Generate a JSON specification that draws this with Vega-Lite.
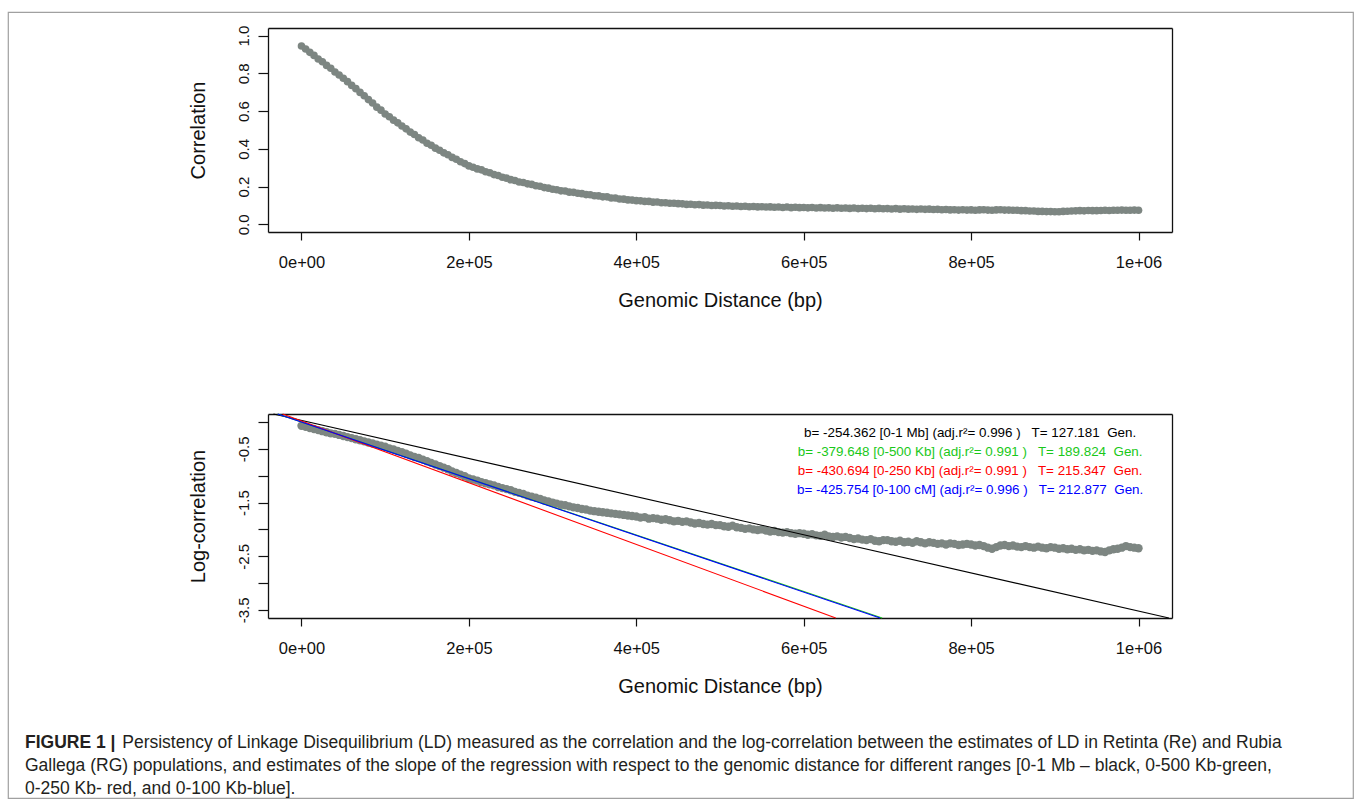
{
"$schema": "https://vega.github.io/schema/vega-lite/v6.json",
"width": 1345, "height": 786,
"autosize": {"type": "none"},
"padding": {"left": 8, "top": 12, "right": 2, "bottom": 4},
"background": "white",
"config": {
  "view": {"stroke": "#a0a0a0", "strokeWidth": 1.2},
  "font": "Liberation Sans",
  "axis": {"grid": false, "domainColor": "#111", "domainWidth": 1.3, "tickColor": "#111", "tickWidth": 1.2, "labelColor": "#111", "titleColor": "#111", "labelFont": "Liberation Sans", "titleFont": "Liberation Sans", "titleFontWeight": "normal", "labelFlush": false, "labelOverlap": false, "labelBound": false}
},
"title": {
  "text": "FIGURE 1 |",
  "subtitle": ["\u200b\u00a0\u00a0\u00a0\u00a0\u00a0\u00a0\u00a0\u00a0\u00a0\u00a0\u00a0\u00a0\u00a0\u00a0\u00a0\u00a0\u00a0\u00a0\u00a0\u00a0Persistency of Linkage Disequilibrium (LD) measured as the correlation and the log-correlation between the estimates of LD in Retinta (Re) and Rubia", "Gallega (RG) populations, and estimates of the slope of the regression with respect to the genomic distance for different ranges [0-1 Mb \u2013 black, 0-500 Kb-green,", "0-250 Kb- red, and 0-100 Kb-blue]."],
  "orient": "bottom", "anchor": "start", "frame": "group", "offset": -64, "dx": 17,
  "font": "Liberation Sans", "fontSize": 17.5, "fontWeight": "bold", "color": "#231f20", "lineHeight": 17.5,
  "subtitleFont": "Liberation Sans", "subtitleFontSize": 17.5, "subtitleFontWeight": "normal", "subtitleColor": "#231f20", "subtitleLineHeight": 23, "subtitlePadding": -17.5
},
"datasets": {
"pts": [
{"d":0,"r":0.945,"l":-0.07},{"d":5000,"r":0.929,"l":-0.09},{"d":10000,"r":0.911,"l":-0.11},{"d":15000,"r":0.895,"l":-0.13},{"d":20000,"r":0.876,"l":-0.15},
{"d":25000,"r":0.861,"l":-0.17},{"d":30000,"r":0.842,"l":-0.19},{"d":35000,"r":0.827,"l":-0.21},{"d":40000,"r":0.807,"l":-0.22},{"d":45000,"r":0.791,"l":-0.24},
{"d":50000,"r":0.774,"l":-0.26},{"d":55000,"r":0.756,"l":-0.28},{"d":60000,"r":0.736,"l":-0.30},{"d":65000,"r":0.719,"l":-0.32},{"d":70000,"r":0.699,"l":-0.34},
{"d":75000,"r":0.681,"l":-0.36},{"d":80000,"r":0.661,"l":-0.38},{"d":85000,"r":0.643,"l":-0.40},{"d":90000,"r":0.621,"l":-0.42},{"d":95000,"r":0.605,"l":-0.44},
{"d":100000,"r":0.585,"l":-0.46},{"d":105000,"r":0.570,"l":-0.49},{"d":110000,"r":0.552,"l":-0.51},{"d":115000,"r":0.538,"l":-0.54},{"d":120000,"r":0.521,"l":-0.56},
{"d":125000,"r":0.506,"l":-0.59},{"d":130000,"r":0.489,"l":-0.62},{"d":135000,"r":0.476,"l":-0.65},{"d":140000,"r":0.459,"l":-0.67},{"d":145000,"r":0.447,"l":-0.70},
{"d":150000,"r":0.430,"l":-0.73},{"d":155000,"r":0.419,"l":-0.76},{"d":160000,"r":0.404,"l":-0.79},{"d":165000,"r":0.393,"l":-0.82},{"d":170000,"r":0.379,"l":-0.85},
{"d":175000,"r":0.369,"l":-0.88},{"d":180000,"r":0.355,"l":-0.92},{"d":185000,"r":0.345,"l":-0.95},{"d":190000,"r":0.332,"l":-0.98},{"d":195000,"r":0.322,"l":-1.01},
{"d":200000,"r":0.310,"l":-1.05},{"d":205000,"r":0.303,"l":-1.07},{"d":210000,"r":0.294,"l":-1.09},{"d":215000,"r":0.289,"l":-1.12},{"d":220000,"r":0.279,"l":-1.14},
{"d":225000,"r":0.274,"l":-1.16},{"d":230000,"r":0.264,"l":-1.18},{"d":235000,"r":0.259,"l":-1.21},{"d":240000,"r":0.250,"l":-1.23},{"d":245000,"r":0.245,"l":-1.25},
{"d":250000,"r":0.237,"l":-1.27},{"d":255000,"r":0.233,"l":-1.30},{"d":260000,"r":0.225,"l":-1.32},{"d":265000,"r":0.222,"l":-1.34},{"d":270000,"r":0.215,"l":-1.37},
{"d":275000,"r":0.212,"l":-1.39},{"d":280000,"r":0.205,"l":-1.41},{"d":285000,"r":0.202,"l":-1.43},{"d":290000,"r":0.195,"l":-1.46},{"d":295000,"r":0.192,"l":-1.48},
{"d":300000,"r":0.186,"l":-1.50},{"d":305000,"r":0.184,"l":-1.52},{"d":310000,"r":0.178,"l":-1.54},{"d":315000,"r":0.177,"l":-1.55},{"d":320000,"r":0.171,"l":-1.57},
{"d":325000,"r":0.170,"l":-1.59},{"d":330000,"r":0.165,"l":-1.60},{"d":335000,"r":0.163,"l":-1.62},{"d":340000,"r":0.158,"l":-1.63},{"d":345000,"r":0.157,"l":-1.65},
{"d":350000,"r":0.152,"l":-1.66},{"d":355000,"r":0.151,"l":-1.67},{"d":360000,"r":0.146,"l":-1.68},{"d":365000,"r":0.146,"l":-1.69},{"d":370000,"r":0.140,"l":-1.70},
{"d":375000,"r":0.140,"l":-1.71},{"d":380000,"r":0.135,"l":-1.72},{"d":385000,"r":0.134,"l":-1.73},{"d":390000,"r":0.130,"l":-1.74},{"d":395000,"r":0.129,"l":-1.75},
{"d":400000,"r":0.126,"l":-1.76},{"d":405000,"r":0.125,"l":-1.78},{"d":410000,"r":0.122,"l":-1.77},{"d":415000,"r":0.122,"l":-1.80},{"d":420000,"r":0.118,"l":-1.79},
{"d":425000,"r":0.119,"l":-1.80},{"d":430000,"r":0.115,"l":-1.82},{"d":435000,"r":0.115,"l":-1.81},{"d":440000,"r":0.112,"l":-1.83},{"d":445000,"r":0.112,"l":-1.85},
{"d":450000,"r":0.110,"l":-1.84},{"d":455000,"r":0.109,"l":-1.86},{"d":460000,"r":0.106,"l":-1.85},{"d":465000,"r":0.107,"l":-1.87},{"d":470000,"r":0.104,"l":-1.89},
{"d":475000,"r":0.105,"l":-1.88},{"d":480000,"r":0.102,"l":-1.90},{"d":485000,"r":0.103,"l":-1.91},{"d":490000,"r":0.100,"l":-1.90},{"d":495000,"r":0.101,"l":-1.92},
{"d":500000,"r":0.100,"l":-1.92},{"d":505000,"r":0.098,"l":-1.94},{"d":510000,"r":0.099,"l":-1.95},{"d":515000,"r":0.096,"l":-1.93},{"d":520000,"r":0.098,"l":-1.96},
{"d":525000,"r":0.095,"l":-1.97},{"d":530000,"r":0.096,"l":-1.99},{"d":535000,"r":0.094,"l":-1.98},{"d":540000,"r":0.095,"l":-2.00},{"d":545000,"r":0.093,"l":-2.01},
{"d":550000,"r":0.094,"l":-2.00},{"d":555000,"r":0.092,"l":-2.02},{"d":560000,"r":0.093,"l":-2.04},{"d":565000,"r":0.091,"l":-2.03},{"d":570000,"r":0.092,"l":-2.05},
{"d":575000,"r":0.090,"l":-2.06},{"d":580000,"r":0.092,"l":-2.05},{"d":585000,"r":0.089,"l":-2.07},{"d":590000,"r":0.091,"l":-2.08},{"d":595000,"r":0.089,"l":-2.07},
{"d":600000,"r":0.090,"l":-2.08},{"d":605000,"r":0.088,"l":-2.10},{"d":610000,"r":0.090,"l":-2.09},{"d":615000,"r":0.087,"l":-2.11},{"d":620000,"r":0.089,"l":-2.12},
{"d":625000,"r":0.087,"l":-2.10},{"d":630000,"r":0.088,"l":-2.13},{"d":635000,"r":0.086,"l":-2.14},{"d":640000,"r":0.088,"l":-2.13},{"d":645000,"r":0.086,"l":-2.15},
{"d":650000,"r":0.087,"l":-2.14},{"d":655000,"r":0.085,"l":-2.16},{"d":660000,"r":0.087,"l":-2.18},{"d":665000,"r":0.084,"l":-2.17},{"d":670000,"r":0.086,"l":-2.19},
{"d":675000,"r":0.084,"l":-2.20},{"d":680000,"r":0.086,"l":-2.18},{"d":685000,"r":0.083,"l":-2.21},{"d":690000,"r":0.085,"l":-2.22},{"d":695000,"r":0.083,"l":-2.20},
{"d":700000,"r":0.084,"l":-2.20},{"d":705000,"r":0.082,"l":-2.22},{"d":710000,"r":0.084,"l":-2.23},{"d":715000,"r":0.081,"l":-2.21},{"d":720000,"r":0.083,"l":-2.24},
{"d":725000,"r":0.081,"l":-2.23},{"d":730000,"r":0.082,"l":-2.25},{"d":735000,"r":0.080,"l":-2.22},{"d":740000,"r":0.082,"l":-2.24},{"d":745000,"r":0.080,"l":-2.26},
{"d":750000,"r":0.081,"l":-2.24},{"d":755000,"r":0.079,"l":-2.25},{"d":760000,"r":0.080,"l":-2.27},{"d":765000,"r":0.078,"l":-2.26},{"d":770000,"r":0.079,"l":-2.28},
{"d":775000,"r":0.077,"l":-2.26},{"d":780000,"r":0.078,"l":-2.27},{"d":785000,"r":0.076,"l":-2.29},{"d":790000,"r":0.078,"l":-2.28},{"d":795000,"r":0.076,"l":-2.27},
{"d":800000,"r":0.077,"l":-2.28},{"d":805000,"r":0.075,"l":-2.30},{"d":810000,"r":0.077,"l":-2.29},{"d":815000,"r":0.078,"l":-2.31},{"d":820000,"r":0.076,"l":-2.34},
{"d":825000,"r":0.075,"l":-2.36},{"d":830000,"r":0.077,"l":-2.33},{"d":835000,"r":0.078,"l":-2.30},{"d":840000,"r":0.076,"l":-2.29},{"d":845000,"r":0.076,"l":-2.31},
{"d":850000,"r":0.075,"l":-2.30},{"d":855000,"r":0.075,"l":-2.32},{"d":860000,"r":0.073,"l":-2.33},{"d":865000,"r":0.073,"l":-2.31},{"d":870000,"r":0.071,"l":-2.33},
{"d":875000,"r":0.071,"l":-2.34},{"d":880000,"r":0.069,"l":-2.32},{"d":885000,"r":0.069,"l":-2.34},{"d":890000,"r":0.068,"l":-2.35},{"d":895000,"r":0.068,"l":-2.33},
{"d":900000,"r":0.067,"l":-2.34},{"d":905000,"r":0.067,"l":-2.36},{"d":910000,"r":0.069,"l":-2.35},{"d":915000,"r":0.070,"l":-2.37},{"d":920000,"r":0.071,"l":-2.36},
{"d":925000,"r":0.072,"l":-2.38},{"d":930000,"r":0.073,"l":-2.37},{"d":935000,"r":0.072,"l":-2.39},{"d":940000,"r":0.074,"l":-2.38},{"d":945000,"r":0.073,"l":-2.40},
{"d":950000,"r":0.073,"l":-2.39},{"d":955000,"r":0.074,"l":-2.41},{"d":960000,"r":0.075,"l":-2.42},{"d":965000,"r":0.074,"l":-2.39},{"d":970000,"r":0.075,"l":-2.37},
{"d":975000,"r":0.075,"l":-2.36},{"d":980000,"r":0.076,"l":-2.34},{"d":985000,"r":0.075,"l":-2.31},{"d":990000,"r":0.075,"l":-2.33},{"d":995000,"r":0.076,"l":-2.34},
{"d":1000000,"r":0.075,"l":-2.35}
],
"fits": [
{"fit":"0-1 Mb","d":-33500,"l":0.15},{"fit":"0-1 Mb","d":1036300,"l":-3.65},
{"fit":"0-500 Kb","d":-28400,"l":0.15},{"fit":"0-500 Kb","d":693700,"l":-3.65},
{"fit":"0-250 Kb","d":-22600,"l":0.15},{"fit":"0-250 Kb","d":638300,"l":-3.65},
{"fit":"0-100 Kb","d":-28400,"l":0.15},{"fit":"0-100 Kb","d":691300,"l":-3.65}
],
"leg": [
{"fit":"0-1 Mb","t":"b= -254.362 [0-1 Mb] (adj.r\u00b2= 0.996 )\u00a0\u00a0 T= 127.181\u00a0 Gen."},
{"fit":"0-500 Kb","t":"b= -379.648 [0-500 Kb] (adj.r\u00b2= 0.991 )\u00a0\u00a0 T= 189.824\u00a0 Gen."},
{"fit":"0-250 Kb","t":"b= -430.694 [0-250 Kb] (adj.r\u00b2= 0.991 )\u00a0\u00a0 T= 215.347\u00a0 Gen."},
{"fit":"0-100 Kb","t":"b= -425.754 [0-100 cM] (adj.r\u00b2= 0.996 )\u00a0\u00a0 T= 212.877\u00a0 Gen."}
]
},
"layer": [
{
  "data": {"name": "pts"},
  "mark": {"type": "point", "filled": true, "size": 58, "strokeWidth": 0, "color": "#7d8682", "opacity": 1},
  "encoding": {
    "x": {"field": "d", "type": "quantitative",
      "scale": {"domain": [-40000, 1040000], "range": [260, 1164], "nice": false, "zero": false},
      "axis": {"orient": "bottom", "offset": -566, "values": [0, 200000, 400000, 600000, 800000, 1000000],
        "labelExpr": "datum.value == 0 ? '0e+00' : datum.value == 1000000 ? '1e+06' : (datum.value / 100000) + 'e+05'",
        "tickSize": 8, "labelPadding": 14, "labelFontSize": 16.5, "title": "Genomic Distance (bp)", "titleFontSize": 20, "titlePadding": 20}},
    "y": {"field": "r", "type": "quantitative",
      "scale": {"domain": [-0.04, 1.04], "range": [220, 16], "nice": false, "zero": false},
      "axis": {"orient": "left", "offset": -260, "values": [0, 0.2, 0.4, 0.6, 0.8, 1.0], "format": ".1f",
        "tickSize": 10, "labelAngle": -90, "labelAlign": "center", "labelBaseline": "alphabetic", "labelPadding": 10, "labelFontSize": 15,
        "title": "Correlation", "titleFontSize": 20, "titleBaseline": "alphabetic", "titlePadding": 32}}
  }
},
{
  "data": {"name": "pts"},
  "mark": {"type": "point", "opacity": 0},
  "encoding": {
    "x": {"field": "d", "type": "quantitative",
      "scale": {"domain": [-40000, 1040000], "range": [260, 1164], "nice": false, "zero": false},
      "axis": {"orient": "top", "offset": -16, "ticks": false, "labels": false, "title": null}},
    "y": {"field": "r", "type": "quantitative",
      "scale": {"domain": [-0.04, 1.04], "range": [220, 16], "nice": false, "zero": false},
      "axis": {"orient": "right", "offset": -181, "ticks": false, "labels": false, "title": null}}
  }
},
{
  "data": {"name": "pts"},
  "mark": {"type": "point", "filled": true, "size": 70, "strokeWidth": 0, "color": "#7d8682", "opacity": 1},
  "encoding": {
    "x": {"field": "d", "type": "quantitative",
      "scale": {"domain": [-40000, 1040000], "range": [260, 1164], "nice": false, "zero": false},
      "axis": {"orient": "bottom", "offset": -180, "values": [0, 200000, 400000, 600000, 800000, 1000000],
        "labelExpr": "datum.value == 0 ? '0e+00' : datum.value == 1000000 ? '1e+06' : (datum.value / 100000) + 'e+05'",
        "tickSize": 8, "labelPadding": 14, "labelFontSize": 16.5, "title": "Genomic Distance (bp)", "titleFontSize": 20, "titlePadding": 20}},
    "y": {"field": "l", "type": "quantitative",
      "scale": {"domain": [-3.65, 0.15], "range": [606, 402], "nice": false, "zero": false},
      "axis": {"orient": "left", "offset": -260, "values": [0, -0.5, -1, -1.5, -2, -2.5, -3, -3.5],
        "labelExpr": "datum.value % 1 != 0 ? '' + datum.value : ''",
        "tickSize": 10, "labelAngle": -90, "labelAlign": "center", "labelBaseline": "alphabetic", "labelPadding": 10, "labelFontSize": 15,
        "title": "Log-correlation", "titleFontSize": 20, "titleBaseline": "alphabetic", "titlePadding": 32}}
  }
},
{
  "data": {"name": "pts"},
  "mark": {"type": "point", "opacity": 0},
  "encoding": {
    "x": {"field": "d", "type": "quantitative",
      "scale": {"domain": [-40000, 1040000], "range": [260, 1164], "nice": false, "zero": false},
      "axis": {"orient": "top", "offset": -402, "ticks": false, "labels": false, "title": null}},
    "y": {"field": "l", "type": "quantitative",
      "scale": {"domain": [-3.65, 0.15], "range": [606, 402], "nice": false, "zero": false},
      "axis": {"orient": "right", "offset": -181, "ticks": false, "labels": false, "title": null}}
  }
},
{
  "data": {"name": "fits"},
  "mark": {"type": "line", "strokeWidth": 1.1},
  "encoding": {
    "x": {"field": "d", "type": "quantitative",
      "scale": {"domain": [-40000, 1040000], "range": [260, 1164], "nice": false, "zero": false}, "axis": null},
    "y": {"field": "l", "type": "quantitative",
      "scale": {"domain": [-3.65, 0.15], "range": [606, 402], "nice": false, "zero": false}, "axis": null},
    "color": {"field": "fit", "type": "nominal",
      "scale": {"domain": ["0-1 Mb", "0-500 Kb", "0-250 Kb", "0-100 Kb"], "range": ["#000000", "#19c819", "#ff0000", "#0000ff"]}, "legend": null}
  }
},
{
  "data": {"name": "leg"},
  "mark": {"type": "text", "fontSize": 13.4, "align": "center", "baseline": "middle", "font": "Liberation Sans"},
  "encoding": {
    "x": {"datum": 798800, "type": "quantitative",
      "scale": {"domain": [-40000, 1040000], "range": [260, 1164], "nice": false, "zero": false}, "axis": null},
    "y": {"field": "fit", "type": "ordinal",
      "scale": {"type": "point", "domain": ["0-1 Mb", "0-500 Kb", "0-250 Kb", "0-100 Kb"], "range": [421, 478], "padding": 0}, "axis": null},
    "text": {"field": "t"},
    "color": {"field": "fit", "type": "nominal",
      "scale": {"domain": ["0-1 Mb", "0-500 Kb", "0-250 Kb", "0-100 Kb"], "range": ["#000000", "#19c819", "#ff0000", "#0000ff"]}, "legend": null}
  }
}
],
"resolve": {"scale": {"x": "independent", "y": "independent", "color": "independent"}, "axis": {"x": "independent", "y": "independent"}}
}
